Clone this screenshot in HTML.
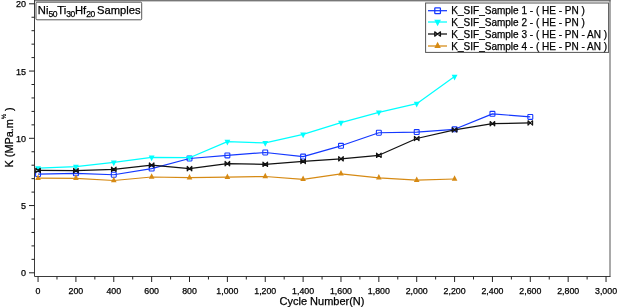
<!DOCTYPE html><html><head><meta charset="utf-8"><title>chart</title>
<style>html,body{margin:0;padding:0;background:#fff;}svg{display:block;}text{font-family:"Liberation Sans",Arial,sans-serif;fill:#000;stroke:#000;stroke-width:0.25px;}</style></head><body>
<svg width="617" height="307" viewBox="0 0 617 307">
<rect width="617" height="307" fill="#fff"/>
<rect x="34.0" y="0" width="576.5" height="1.4" fill="#777"/>
<path d="M610 0V276.5" fill="none" stroke="#555" stroke-width="1"/>
<path d="M34.5 0V276.5H610.5" fill="none" stroke="#3a3a3a" stroke-width="1"/>
<path d="M29 272.80H34.5M31.5 259.35H34.5M31.5 245.90H34.5M31.5 232.45H34.5M31.5 219.00H34.5M29 205.55H34.5M31.5 192.10H34.5M31.5 178.65H34.5M31.5 165.20H34.5M31.5 151.75H34.5M29 138.30H34.5M31.5 124.85H34.5M31.5 111.40H34.5M31.5 97.95H34.5M31.5 84.50H34.5M29 71.05H34.5M31.5 57.60H34.5M31.5 44.15H34.5M31.5 30.70H34.5M31.5 17.25H34.5M29 3.80H34.5" stroke="#222" stroke-width="1" fill="none"/>
<text x="26" y="276.45" font-size="9" text-anchor="end">0</text>
<text x="26" y="209.20" font-size="9" text-anchor="end">5</text>
<text x="26" y="141.95" font-size="9" text-anchor="end">10</text>
<text x="26" y="74.70" font-size="9" text-anchor="end">15</text>
<text x="26" y="7.45" font-size="9" text-anchor="end">20</text>
<path d="M38.05 276.5V282M56.98 276.5V279.5M75.92 276.5V282M94.85 276.5V279.5M113.78 276.5V282M132.71 276.5V279.5M151.65 276.5V282M170.58 276.5V279.5M189.51 276.5V282M208.45 276.5V279.5M227.38 276.5V282M246.31 276.5V279.5M265.25 276.5V282M284.18 276.5V279.5M303.11 276.5V282M322.05 276.5V279.5M340.98 276.5V282M359.91 276.5V279.5M378.84 276.5V282M397.78 276.5V279.5M416.71 276.5V282M435.64 276.5V279.5M454.58 276.5V282M473.51 276.5V279.5M492.44 276.5V282M511.38 276.5V279.5M530.31 276.5V282M549.24 276.5V279.5M568.17 276.5V282M587.11 276.5V279.5M606.04 276.5V282" stroke="#222" stroke-width="1" fill="none"/>
<text x="38.05" y="293.5" font-size="8.8" text-anchor="middle">0</text>
<text x="75.92" y="293.5" font-size="8.8" text-anchor="middle">200</text>
<text x="113.78" y="293.5" font-size="8.8" text-anchor="middle">400</text>
<text x="151.65" y="293.5" font-size="8.8" text-anchor="middle">600</text>
<text x="189.51" y="293.5" font-size="8.8" text-anchor="middle">800</text>
<text x="227.38" y="293.5" font-size="8.8" text-anchor="middle">1,000</text>
<text x="265.25" y="293.5" font-size="8.8" text-anchor="middle">1,200</text>
<text x="303.11" y="293.5" font-size="8.8" text-anchor="middle">1,400</text>
<text x="340.98" y="293.5" font-size="8.8" text-anchor="middle">1,600</text>
<text x="378.84" y="293.5" font-size="8.8" text-anchor="middle">1,800</text>
<text x="416.71" y="293.5" font-size="8.8" text-anchor="middle">2,000</text>
<text x="454.58" y="293.5" font-size="8.8" text-anchor="middle">2,200</text>
<text x="492.44" y="293.5" font-size="8.8" text-anchor="middle">2,400</text>
<text x="530.31" y="293.5" font-size="8.8" text-anchor="middle">2,600</text>
<text x="568.17" y="293.5" font-size="8.8" text-anchor="middle">2,800</text>
<text x="606.04" y="293.5" font-size="8.8" text-anchor="middle">3,000</text>
<text x="322" y="304.8" font-size="11" text-anchor="middle">Cycle Number(N)</text>
<text transform="translate(13.0,167.5) rotate(-90)" font-size="10.9">K (MPa.m<tspan font-size="6" dy="-7">½</tspan><tspan dy="7"> )</tspan></text>
<polyline points="38.05,174.10 75.92,173.30 113.78,174.75 151.65,168.60 189.51,158.50 227.38,155.45 265.25,152.50 303.11,156.60 340.98,145.80 378.84,132.75 416.71,132.10 454.58,129.30 492.44,113.85 530.31,116.90" fill="none" stroke="#1438ff" stroke-width="1.2" stroke-linejoin="round"/>
<rect x="35.60" y="171.65" width="4.90" height="4.90" rx="0.6" fill="none" stroke="#1438ff" stroke-width="1.10"/>
<rect x="73.47" y="170.85" width="4.90" height="4.90" rx="0.6" fill="none" stroke="#1438ff" stroke-width="1.10"/>
<rect x="111.33" y="172.30" width="4.90" height="4.90" rx="0.6" fill="none" stroke="#1438ff" stroke-width="1.10"/>
<rect x="149.20" y="166.15" width="4.90" height="4.90" rx="0.6" fill="none" stroke="#1438ff" stroke-width="1.10"/>
<rect x="187.06" y="156.05" width="4.90" height="4.90" rx="0.6" fill="none" stroke="#1438ff" stroke-width="1.10"/>
<rect x="224.93" y="153.00" width="4.90" height="4.90" rx="0.6" fill="none" stroke="#1438ff" stroke-width="1.10"/>
<rect x="262.80" y="150.05" width="4.90" height="4.90" rx="0.6" fill="none" stroke="#1438ff" stroke-width="1.10"/>
<rect x="300.66" y="154.15" width="4.90" height="4.90" rx="0.6" fill="none" stroke="#1438ff" stroke-width="1.10"/>
<rect x="338.53" y="143.35" width="4.90" height="4.90" rx="0.6" fill="none" stroke="#1438ff" stroke-width="1.10"/>
<rect x="376.39" y="130.30" width="4.90" height="4.90" rx="0.6" fill="none" stroke="#1438ff" stroke-width="1.10"/>
<rect x="414.26" y="129.65" width="4.90" height="4.90" rx="0.6" fill="none" stroke="#1438ff" stroke-width="1.10"/>
<rect x="452.13" y="126.85" width="4.90" height="4.90" rx="0.6" fill="none" stroke="#1438ff" stroke-width="1.10"/>
<rect x="489.99" y="111.40" width="4.90" height="4.90" rx="0.6" fill="none" stroke="#1438ff" stroke-width="1.10"/>
<rect x="527.86" y="114.45" width="4.90" height="4.90" rx="0.6" fill="none" stroke="#1438ff" stroke-width="1.10"/>
<polyline points="38.05,168.20 75.92,166.60 113.78,162.40 151.65,157.40 189.51,157.70 227.38,141.65 265.25,142.90 303.11,134.40 340.98,122.60 378.84,112.30 416.71,103.70 454.58,76.60" fill="none" stroke="#00ffff" stroke-width="1.2" stroke-linejoin="round"/>
<path d="M35.15 166.30H40.95L38.05 172.00Z" fill="#00ffff"/>
<path d="M73.02 164.70H78.82L75.92 170.40Z" fill="#00ffff"/>
<path d="M110.88 160.50H116.68L113.78 166.20Z" fill="#00ffff"/>
<path d="M148.75 155.50H154.55L151.65 161.20Z" fill="#00ffff"/>
<path d="M186.61 155.80H192.41L189.51 161.50Z" fill="#00ffff"/>
<path d="M224.48 139.75H230.28L227.38 145.45Z" fill="#00ffff"/>
<path d="M262.35 141.00H268.15L265.25 146.70Z" fill="#00ffff"/>
<path d="M300.21 132.50H306.01L303.11 138.20Z" fill="#00ffff"/>
<path d="M338.08 120.70H343.88L340.98 126.40Z" fill="#00ffff"/>
<path d="M375.94 110.40H381.74L378.84 116.10Z" fill="#00ffff"/>
<path d="M413.81 101.80H419.61L416.71 107.50Z" fill="#00ffff"/>
<path d="M451.68 74.70H457.48L454.58 80.40Z" fill="#00ffff"/>
<polyline points="38.05,170.40 75.92,170.60 113.78,169.30 151.65,165.10 189.51,168.60 227.38,163.60 265.25,164.30 303.11,161.40 340.98,158.80 378.84,155.30 416.71,138.50 454.58,129.90 492.44,123.65 530.31,122.90" fill="none" stroke="#111" stroke-width="1.2" stroke-linejoin="round"/>
<path d="M35.75 168.20L40.35 172.60V168.20L35.75 172.60Z" stroke="#111" stroke-width="1.15" stroke-linejoin="round" fill="none"/>
<path d="M73.62 168.40L78.22 172.80V168.40L73.62 172.80Z" stroke="#111" stroke-width="1.15" stroke-linejoin="round" fill="none"/>
<path d="M111.48 167.10L116.08 171.50V167.10L111.48 171.50Z" stroke="#111" stroke-width="1.15" stroke-linejoin="round" fill="none"/>
<path d="M149.35 162.90L153.95 167.30V162.90L149.35 167.30Z" stroke="#111" stroke-width="1.15" stroke-linejoin="round" fill="none"/>
<path d="M187.21 166.40L191.81 170.80V166.40L187.21 170.80Z" stroke="#111" stroke-width="1.15" stroke-linejoin="round" fill="none"/>
<path d="M225.08 161.40L229.68 165.80V161.40L225.08 165.80Z" stroke="#111" stroke-width="1.15" stroke-linejoin="round" fill="none"/>
<path d="M262.95 162.10L267.55 166.50V162.10L262.95 166.50Z" stroke="#111" stroke-width="1.15" stroke-linejoin="round" fill="none"/>
<path d="M300.81 159.20L305.41 163.60V159.20L300.81 163.60Z" stroke="#111" stroke-width="1.15" stroke-linejoin="round" fill="none"/>
<path d="M338.68 156.60L343.28 161.00V156.60L338.68 161.00Z" stroke="#111" stroke-width="1.15" stroke-linejoin="round" fill="none"/>
<path d="M376.54 153.10L381.14 157.50V153.10L376.54 157.50Z" stroke="#111" stroke-width="1.15" stroke-linejoin="round" fill="none"/>
<path d="M414.41 136.30L419.01 140.70V136.30L414.41 140.70Z" stroke="#111" stroke-width="1.15" stroke-linejoin="round" fill="none"/>
<path d="M452.28 127.70L456.88 132.10V127.70L452.28 132.10Z" stroke="#111" stroke-width="1.15" stroke-linejoin="round" fill="none"/>
<path d="M490.14 121.45L494.74 125.85V121.45L490.14 125.85Z" stroke="#111" stroke-width="1.15" stroke-linejoin="round" fill="none"/>
<path d="M528.01 120.70L532.61 125.10V120.70L528.01 125.10Z" stroke="#111" stroke-width="1.15" stroke-linejoin="round" fill="none"/>
<polyline points="38.05,178.10 75.92,178.30 113.78,180.50 151.65,177.00 189.51,177.60 227.38,177.20 265.25,176.50 303.11,179.30 340.98,173.80 378.84,177.80 416.71,180.10 454.58,179.00" fill="none" stroke="#d68a14" stroke-width="1.2" stroke-linejoin="round"/>
<path d="M35.25 179.90H40.85L38.05 174.40Z" fill="#d68a14"/>
<path d="M73.12 180.10H78.72L75.92 174.60Z" fill="#d68a14"/>
<path d="M110.98 182.30H116.58L113.78 176.80Z" fill="#d68a14"/>
<path d="M148.85 178.80H154.45L151.65 173.30Z" fill="#d68a14"/>
<path d="M186.71 179.40H192.31L189.51 173.90Z" fill="#d68a14"/>
<path d="M224.58 179.00H230.18L227.38 173.50Z" fill="#d68a14"/>
<path d="M262.45 178.30H268.05L265.25 172.80Z" fill="#d68a14"/>
<path d="M300.31 181.10H305.91L303.11 175.60Z" fill="#d68a14"/>
<path d="M338.18 175.60H343.78L340.98 170.10Z" fill="#d68a14"/>
<path d="M376.04 179.60H381.64L378.84 174.10Z" fill="#d68a14"/>
<path d="M413.91 181.90H419.51L416.71 176.40Z" fill="#d68a14"/>
<path d="M451.78 180.80H457.38L454.58 175.30Z" fill="#d68a14"/>
<rect x="36" y="2.2" width="105.7" height="17.6" rx="1" fill="#fff" stroke="#444" stroke-width="0.9"/>
<text x="37.8" y="13.6" font-size="11.2">Ni<tspan font-size="8.5" dy="3.1" letter-spacing="-0.3">50</tspan><tspan dy="-3.1">Ti</tspan><tspan font-size="8.5" dy="3.1" letter-spacing="-0.3">30</tspan><tspan dy="-3.1">Hf</tspan><tspan font-size="8.5" dy="3.1" letter-spacing="-0.3">20</tspan><tspan dy="-3.1" dx="-1.1"> Samples</tspan></text>
<rect x="425.6" y="3.0" width="183" height="49.4" fill="#fff" stroke="#555" stroke-width="1"/>
<path d="M428 10.7H447" stroke="#1438ff" stroke-width="1.25" fill="none"/>
<rect x="434.78" y="7.88" width="5.63" height="5.63" rx="0.6" fill="none" stroke="#1438ff" stroke-width="1.26"/>
<text x="451.3" y="13.95" font-size="10.02">K_SIF_Sample 1 - ( HE - PN )</text>
<path d="M428 22.0H447" stroke="#00ffff" stroke-width="1.25" fill="none"/>
<path d="M434.27 19.82H440.94L437.60 26.37Z" fill="#00ffff"/>
<text x="451.3" y="25.75" font-size="10.02">K_SIF_Sample 2 - ( HE - PN )</text>
<path d="M428 34.0H447" stroke="#111" stroke-width="1.25" fill="none"/>
<path d="M434.70 31.80L440.50 36.20V31.80L434.70 36.20Z" stroke="#111" stroke-width="1.15" stroke-linejoin="round" fill="none"/>
<text x="451.3" y="37.75" font-size="10.02">K_SIF_Sample 3 - ( HE - PN - AN )</text>
<path d="M428 46.0H447" stroke="#d68a14" stroke-width="1.25" fill="none"/>
<path d="M434.38 48.07H440.82L437.60 41.74Z" fill="#d68a14"/>
<text x="451.3" y="49.65" font-size="10.02">K_SIF_Sample 4 - ( HE - PN - AN )</text>
</svg></body></html>
